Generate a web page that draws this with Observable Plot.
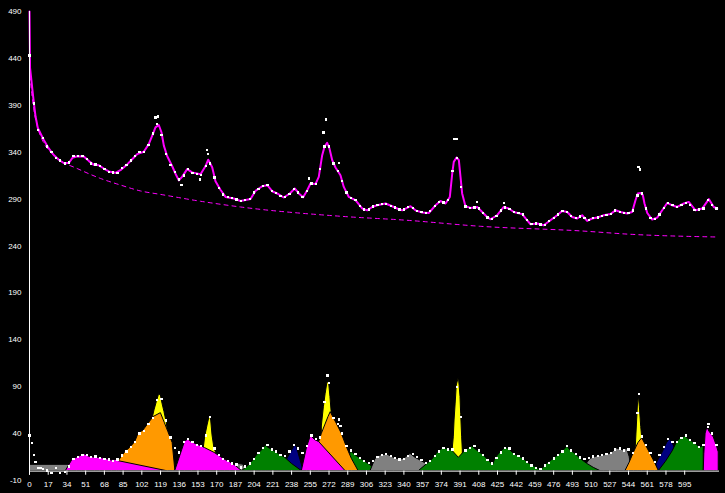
<!DOCTYPE html>
<html><head><meta charset="utf-8">
<script src="https://cdn.jsdelivr.net/npm/d3@7"></script>
<script src="https://cdn.jsdelivr.net/npm/@observablehq/plot@0.6"></script>
<style>html,body{margin:0;padding:0;background:#000;} svg{display:block;}</style>
</head><body><div id="chart"></div>
<script>
// ---- axis tick labels ----
const xTicks = [0,17,34,51,68,85,102,119,136,153,170,187,204,221,238,255,272,289,306,323,340,357,374,391,408,425,442,459,476,493,510,527,544,561,578,595];
const yTicks = [-10,40,90,140,190,240,290,340,390,440,490];

// ---- upper panel: smoothed profile (magenta line) ----
const smoothX = [0,0.5,2.5,4,5.5,7.5,10,13,17.5,22,26.6,31,35.7,39,43.3,49.3,54,58.4,63,67.5,72,78,82.6,88.7,93.3,97.8,103.8,108.3,112.3,114.4,117.4,119.9,122,125,129.6,132.6,135.6,138.7,143.2,147.7,155.3,159.8,162.3,165.9,168.9,173.4,178,185.5,191.6,200.7,205.2,211.3,215.9,220.4,224.9,230.9,236.4,240.9,244.6,248.5,252.2,255.2,259.7,262.7,265.8,267.9,270.3,272.4,274.9,277.9,282.4,285.4,290,296,302.1,306.7,311.2,315.7,323.3,329.4,333.9,338.5,346,350.5,356.6,362.6,368.7,373.2,377.8,381.7,383.9,385.3,387.8,389.9,391.4,392.9,395.9,400.5,406.6,411.1,415.6,418.6,424.7,430.7,435.3,439.8,447.4,452,455,461.1,467,473.1,479.2,483.7,488.3,492.8,497.4,501.9,506.4,511,515.5,521.5,527.6,532.2,536.7,542.8,547.3,550.3,552.4,554.9,557,558.5,561,565.5,570,574.6,579.1,583.6,588.2,594.2,598.7,604.8,610.9,616.9,621.4,624.5];
const smoothY = [490,430,408,392,378,366,360,353,344,337,332,328.5,328.5,334,335.7,335.5,330.5,326.5,326,322.6,319.5,318,320.8,327,332.5,338,340.5,348.6,360,366.5,369,361,347,336,325,317,310,314,322,318.5,316.5,325,332,324,309,300,292.3,290.6,288,290,298.7,303.7,304.8,298.4,296,291.7,296,301.3,296,292,299.5,306.6,306,313.7,336.8,345.7,350,344,331.5,323.7,315.5,303,292.3,288.8,280,278,281.6,283.4,285.3,282.4,280,278,282.4,278,275.7,275.2,283.4,288,285.3,292.3,317.3,329.7,334.4,331.5,313.7,296,282.4,280.6,281.6,276.3,271,268.5,272.8,281.6,280,276.3,274,267.4,263.2,264,262.1,267.4,272.8,277.4,276.3,271,269.3,272.8,266.7,269.3,270.3,272.8,274,278.1,276.3,274.6,276.3,288.8,296,296.6,294.1,285.3,275.2,268.2,270.3,278.1,285.9,283.4,281.6,285.3,287,278.1,279.9,290,281.6,280];

// ---- upper panel: background curve (dashed) ----
const bgX = [0,1,2.5,4,7,12,20,28.2,43.3,64.5,82.6,100.8,119,155.3,191.6,282.4,343,409.6,500.4,545.7,624.5];
const bgY = [430,415,398,385,368,352,339,331,322.6,312,305,298.7,295,287.7,281.6,271.7,267.4,261,256.1,252.5,249.6];

// ---- sampling grid for raw counts (every 4 channels) ----
const sampleX = d3.range(0, 625, 4);

// ---- upper panel: raw counts (white dots) ----
const topDotY = [
443,392,364,355,346,340,334,331,328,329,
336,336,336,333,328,327,325,322,319,318.5,
318,323,326,331,336,340,340.5,348,360,370,
358,338,326,319,311,315,322,318,317,316,
325,328,313,302,295,292,291,289.5,288,289,
290,297,301,304,305,299,296.5,293.5,292,295.5,
300.5,297,292,299,306.5,306,322,346,346,328,
320,309,297,291,289,283,279,279,282,283.5,
284.5,285,283,281,279,279,281.5,280.5,277.5,276,
275.5,277,282.5,287,286.5,289,320,334,303,282,
280.5,281,280,275.5,270.5,269,272,278,281,279.5,
276,275,273.5,267.4,263.5,264,263,262.5,266.5,270,
273.5,277.5,276.5,272,269.5,271.5,269.5,267.5,269.5,270.5,
272,273,274,278,276.5,275.5,275,278,294,296,
280,270,269,273.5,280.5,285.5,283.5,281.5,284,286,
284,278.5,279,280,289,284,280];
const topOutX = [114.5,116.5,161,162,138,155,254,267,269,281,386,388,406.6,430.7,553,554.5];
const topOutY = [377,378,342,338,305,311,312,361,375,328.6,354,354,287,286,324,321.5];

// ---- lower panel: background-subtracted counts (white dots) ----
const botDotY = [
38,17,3,2,0.5,-2,3.5,-2,-1,5,
13,15,17.5,17,15,15.5,14,13,12.5,11,
12.5,16.5,21,25.5,31,40,43,50,57,76,
77,54,36,25,20,31,34,31,28,27,
38,58,24,17,13,11,8,7,4,5,
8,13,19,25,28,23,21,17,16,21,
28,24,19,27,38,34,36,74,94,57,
50,40,27,22,18,14,11,9,11,15,
17,18,16,14,12.5,13,16,18,15,12,
9,10.5,16,21,25,23,23,90,58,22,
25,27,22,17,12,8,14,20,25,24,
18.5,16,13.5,9.5,6,3.5,2,6,9,13.5,
17,21,26.5,22,18,14.5,13,14,15.5,16,
17,18,19,23,24,22,23,19,62,37,
28,19,10,17,26,34,31,31,35,38,
33,30,26,28,47,40,28];
const botOutX = [2,5.5,10,270.6,281,282.5,553.4,616.5];
const botOutY = [30,10,3,102,55,48,82,50];

// ---- lower panel: fitted peak regions (vertex lists) ----
const gray1X = [0,36.4], gray1Y = [6.7,6.7];
const yellow1X = [111.8,113.5,115.6,117.7,119.3,120.8,122.6,124.7,125.6], yellow1Y = [56,64.7,73.6,82,80.7,71.8,62.9,51.2,42];
const orange1X = [81,86.9,91.4,96,99,103.5,108,112.6,119.3,123,126,130,132.5], orange1Y = [10.6,20.2,24.8,30.9,39.8,43.3,50.4,57.6,61.8,51,42,30,0];
const mag1X = [33,39,43,47.5,50.5,53.6,59.6,64,68.7,74.8,79.3,81,124.7], mag1Y = [0,12,14.2,16.6,17.7,15.6,14.2,14.2,13.1,11.3,12,10.6,0];
const gray2X = [183,186,190,194,197.5], gray2Y = [0,5,7.5,7,0];
const yellow2X = [158,159.5,161.7,163.8,165,166.2,168,170], yellow2Y = [22,36.2,48.7,59.3,54,38,23.8,18];
const mag2X = [132.3,141.4,144.4,147.4,152,156.5,159.5,168,173.1,177.7,182.2,186.8,193], mag2Y = [0,31.9,33.4,30.9,28.4,26.3,24.5,19.5,15.6,12,9.5,6,0];
const navy1X = [233.5,238,241.3,243,246,249], navy1Y = [11.5,21,28,25,12,0];
const green1X = [193,197.4,201.9,206.4,211,214.6,217,221.6,226,232.2,238.2,247.3], green1Y = [0,4.2,9.5,16.6,22,27.3,24.8,22,18.4,14.2,7.8,0];
const green2X = [287,292,296,301,305,310,314.5], green2Y = [0,21,17,13,10,6,0];
const yellow3X = [265.5,267.3,268.9,270.5,272,273.3,274.3], yellow3Y = [48,68,82,94,95,79,64];
const orange2X = [263,265.5,268.5,271.5,273.5,279.1,283.6,288.2,292.7,298.8], orange2Y = [30.8,39.8,48.7,57.6,62.8,50.4,39.8,25.5,13.1,0];
const mag3X = [247.3,252,255.5,259.5,263,287], mag3Y = [0,25,37.5,33,31,0];
const gray3X = [309.7,314.2,318.7,324.8,330.8,336.9,341.5,346,350.5,355,360,364], gray3Y = [0,13,16.6,17.7,14.2,12,14.2,18.4,14.2,11.3,8,0];
const yellow4X = [384.2,385.3,386,387,388,389.9,390.6,391.4,392,392.9,393.5], yellow4Y = [22,36,54,72,91,100,91,79,61,36,22];
const green3X = [353.6,365.7,370.2,373.2,376.3,380.8,383.8,389.9,396,400.5,402,406.5,412.6,417.1,421,423,427.7,432.2,435.3,439.8,444.4,448.9,451.9,456.5,461,464.1];
const green3Y = [0,12,19.1,22,24.8,22.7,22,14.2,22,24.8,26.3,22,16.6,11.3,6.5,13.1,20.2,24.8,23.8,18.4,15.6,13.1,9.5,6,3.5,0];
const gray4X = [505,509.4,515.4,521.5,527.5,533.6,539.6,542.7,545,547], gray4Y = [6,13.1,15.6,16.6,18.4,24,22,23.8,15,0];
const green5X = [464.1,470.1,476.1,482.2,488.5,491.2,495.8,500.3,506.4,512.4,518.5], green5Y = [0,7.8,13.1,18.4,26,22,18.4,13.1,7.8,3.5,0];
const navy2X = [569.5,575,579,581.5,583.5,586], navy2Y = [8,20,30,34,31,25];
const yellow5X = [550.5,551.2,551.8,552.5,553.4,554.3,555.5,556.5], yellow5Y = [24,40,54,70,80,68,47,34];
const orange3X = [541.2,545,549,553,556.4,560,564,568,571.5], orange3Y = [0,9,20,30,35,27,18,9,0];
const green6X = [571.5,578,584,588.1,591.1,595.6,600.2,604.7,609.2,612.3], green6Y = [0,10,21,30.9,34.4,36.9,32.7,29.1,25,27];
const mag4X = [612.3,612.8,614,615.6,617.5,621.4,624.4,625.9], mag4Y = [0,18,40,46.5,42,36,26,20];

const GRAY = "#808080", MAG = "#ff00ff", ORANGE = "#ff9900", YELLOW = "#ffff00", GREEN = "#008000", NAVY = "#000080";

// drawing order (later regions cover earlier ones)
const regions = [
  [GRAY, gray1X, gray1Y], [YELLOW, yellow1X, yellow1Y], [ORANGE, orange1X, orange1Y], [MAG, mag1X, mag1Y],
  [GRAY, gray2X, gray2Y], [YELLOW, yellow2X, yellow2Y], [MAG, mag2X, mag2Y],
  [NAVY, navy1X, navy1Y], [GREEN, green1X, green1Y], [GREEN, green2X, green2Y],
  [YELLOW, yellow3X, yellow3Y], [ORANGE, orange2X, orange2Y], [MAG, mag3X, mag3Y],
  [GRAY, gray3X, gray3Y], [YELLOW, yellow4X, yellow4Y], [GREEN, green3X, green3Y],
  [GRAY, gray4X, gray4Y], [GREEN, green5X, green5Y], [NAVY, navy2X, navy2Y],
  [YELLOW, yellow5X, yellow5Y], [ORANGE, orange3X, orange3Y], [GREEN, green6X, green6Y], [MAG, mag4X, mag4Y]
];

const zip = (xs, ys) => xs.map((x, i) => ({x, y: ys[i]}));

const regionMarks = regions.map(([c, xs, ys]) =>
  Plot.areaY(zip(xs, ys), {x: "x", y1: 0, y2: "y", fill: c, stroke: "#000", strokeWidth: 1, curve: "linear"})
);

const dotOpts = {x: "x", y: "y", symbol: "square", r: 1.3, fill: "#fff", shapeRendering: "crispEdges"};

const chart = Plot.plot({
  width: 725, height: 493,
  marginLeft: 29, marginRight: 6, marginTop: 11, marginBottom: 13,
  style: {background: "#000", color: "#fff", fontFamily: "'Liberation Sans', Arial, sans-serif", fontSize: "8px"},
  x: {domain: [0, 626.6], axis: null},
  y: {domain: [-10, 490], axis: null},
  marks: [
    ...regionMarks,
    Plot.line(zip(bgX, bgY), {x: "x", y: "y", stroke: MAG, strokeWidth: 1, strokeDasharray: "4,4", curve: "monotone-x"}),
    Plot.line(zip(smoothX, smoothY), {x: "x", y: "y", stroke: MAG, strokeWidth: 2}),
    Plot.dot(zip(sampleX, topDotY), dotOpts),
    Plot.dot(zip(topOutX, topOutY), dotOpts),
    Plot.dot(zip(sampleX, botDotY), dotOpts),
    Plot.dot(zip(botOutX, botOutY), dotOpts),
    Plot.ruleY([0], {stroke: "#fff", strokeWidth: 1}),
    Plot.ruleX([0], {y1: -4.4, y2: 490, stroke: "#fff", strokeWidth: 1}),
    Plot.ruleX(xTicks, {x: d => d, y1: 0, y2: -4.4, stroke: "#fff", strokeWidth: 1}),
    Plot.axisX({ticks: xTicks, anchor: "bottom", tickSize: 0, tickPadding: 1, tickFormat: d => String(d), label: null, fill: "#fff"}),
    Plot.axisY({ticks: yTicks, anchor: "left", tickSize: 0, tickPadding: 8, tickFormat: d => String(d), label: null, fill: "#fff"})
  ]
});
document.getElementById("chart").appendChild(chart);
</script></body></html>
